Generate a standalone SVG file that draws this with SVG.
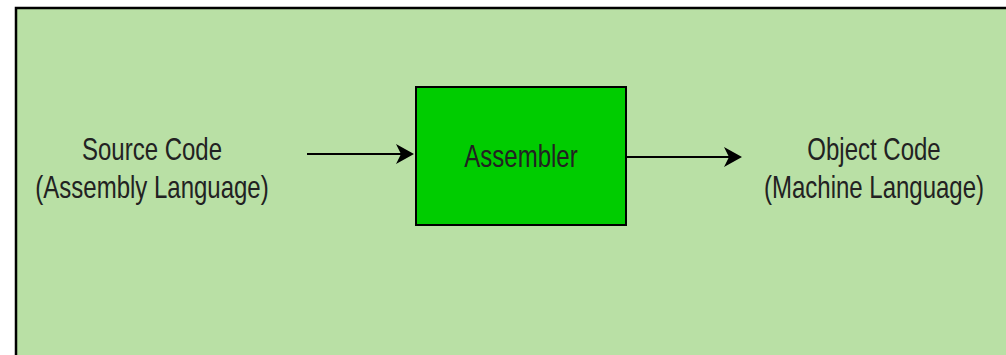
<svg xmlns="http://www.w3.org/2000/svg" width="1006" height="355" viewBox="0 0 1006 355">
<style>
.lbl{font-family:"Liberation Sans",Arial,sans-serif;font-size:24px;fill:#222222;text-anchor:middle}
.conn{stroke:#000;stroke-width:2;fill:none}
.head{fill:#000;stroke:none}
</style>
<rect x="0" y="0" width="1006" height="355" fill="#ffffff"/>
<g id="background">
<rect x="16" y="8" width="1000" height="360" fill="#B9E0A5" stroke="#000" stroke-width="2.5"/>
</g>
<g id="source">
<text class="lbl" transform="matrix(1,0,0,1.28,152,160)">Source Code</text>
<text class="lbl" transform="matrix(1,0,0,1.28,152,198)">(Assembly Language)</text>
</g>
<g id="assembler">
<rect x="416" y="87" width="210" height="138" fill="#00CC00" stroke="#000" stroke-width="2"/>
<text class="lbl" transform="matrix(1,0,0,1.28,521,167)">Assembler</text>
</g>
<g id="object">
<text class="lbl" transform="matrix(1,0,0,1.28,874,160)">Object Code</text>
<text class="lbl" transform="matrix(1,0,0,1.28,874,198)">(Machine Language)</text>
</g>
<g id="connectors">
<line class="conn" x1="307" y1="154" x2="402" y2="154"/>
<path class="head" d="M414,154 L396,144 L401,154 L396,164 Z"/>
<line class="conn" x1="626" y1="157" x2="730" y2="157"/>
<path class="head" d="M742,157 L724,147 L729,157 L724,167 Z"/>
</g>
</svg>
